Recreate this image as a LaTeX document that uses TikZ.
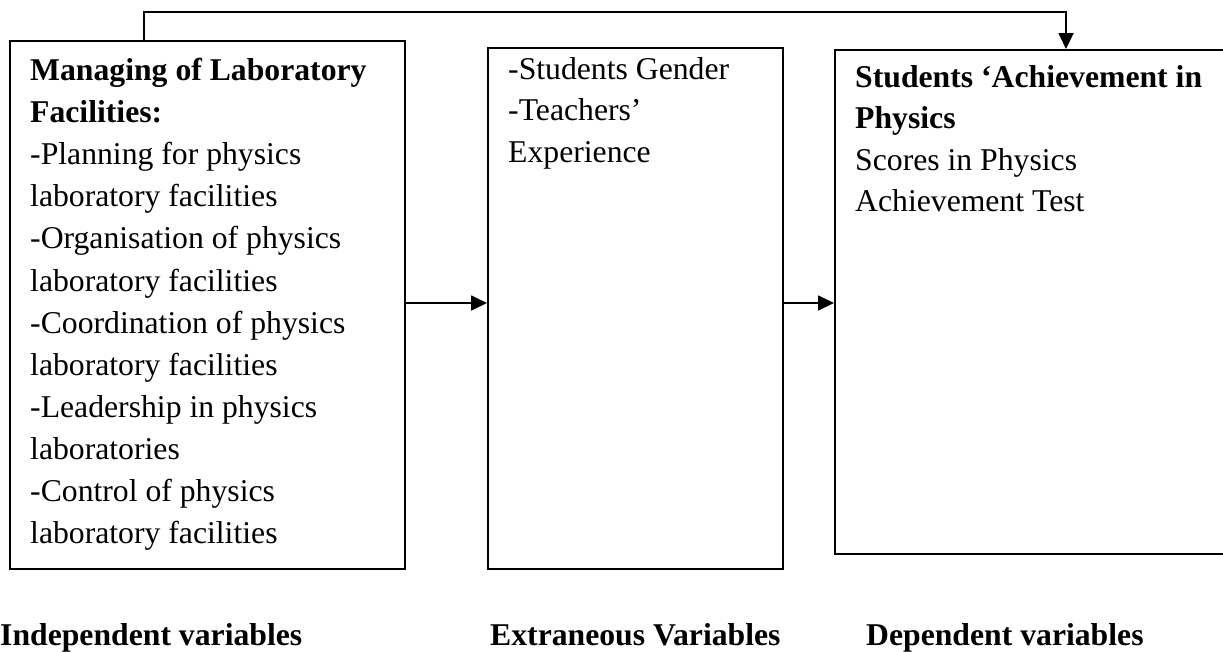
\documentclass[tikz,border=0pt]{standalone}
\usepackage{fontspec}
\setmainfont{Liberation Serif}
\usetikzlibrary{arrows.meta}

\tikzset{
  box/.style={draw, line width=1.8pt, rectangle, inner sep=0pt, anchor=north west},
  txt/.style={inner sep=0pt, anchor=north west, align=left,
              font=\fontsize{31.7pt}{41.5pt}\selectfont},
  caption/.style={inner sep=0pt, anchor=base west,
              font=\fontsize{31.7pt}{41.5pt}\selectfont\bfseries},
  link/.style={line width=1.8pt, -{Triangle[length=16pt,width=15pt]}},
}

\begin{document}
\begin{tikzpicture}[x=1pt,y=-1pt]
  \useasboundingbox (0,0) rectangle (1223,651);

  % three boxes
  \node[box, minimum width=395pt, minimum height=528pt] (b1) at (9,40) {};
  \node[box, minimum width=295pt, minimum height=521pt] (b2) at (487,47) {};
  \node[box, minimum width=420pt, minimum height=504pt] (b3) at (834,49) {};

  % box contents
  \node[txt, font=\fontsize{31.7pt}{42.1pt}\selectfont] (t1) at (30,58) {\textbf{Managing of Laboratory}\\
    \textbf{Facilities:}\\
    -Planning for physics\\
    laboratory facilities\\
    -Organisation of physics\\
    laboratory facilities\\
    -Coordination of physics\\
    laboratory facilities\\
    -Leadership in physics\\
    laboratories\\
    -Control of physics\\
    laboratory facilities};
  \node[txt] (t2) at (508,57) {-Students Gender\\
    -Teachers'\\
    Experience};
  \node[txt] (t3) at (855,65) {\textbf{Students `Achievement in}\\
    \textbf{Physics}\\
    Scores in Physics\\
    Achievement Test};

  % captions under the boxes
  \node[caption] (c1) at (0,645) {Independent variables};
  \node[caption] (c2) at (490,645) {Extraneous Variables};
  \node[caption] (c3) at (866,645) {Dependent variables};

  % connectors
  \coordinate (row) at (0,303);
  \coordinate (up1) at (144,12);
  \coordinate (up2) at (1066,12);
  \draw[link] (b1.east |- row) -- (b2.west |- row);
  \draw[link] (b2.east |- row) -- (b3.west |- row);
  \draw[link] (up1 |- b1.north) -- (up1) -- (up2) -- (up2 |- b3.north);
\end{tikzpicture}
\end{document}
